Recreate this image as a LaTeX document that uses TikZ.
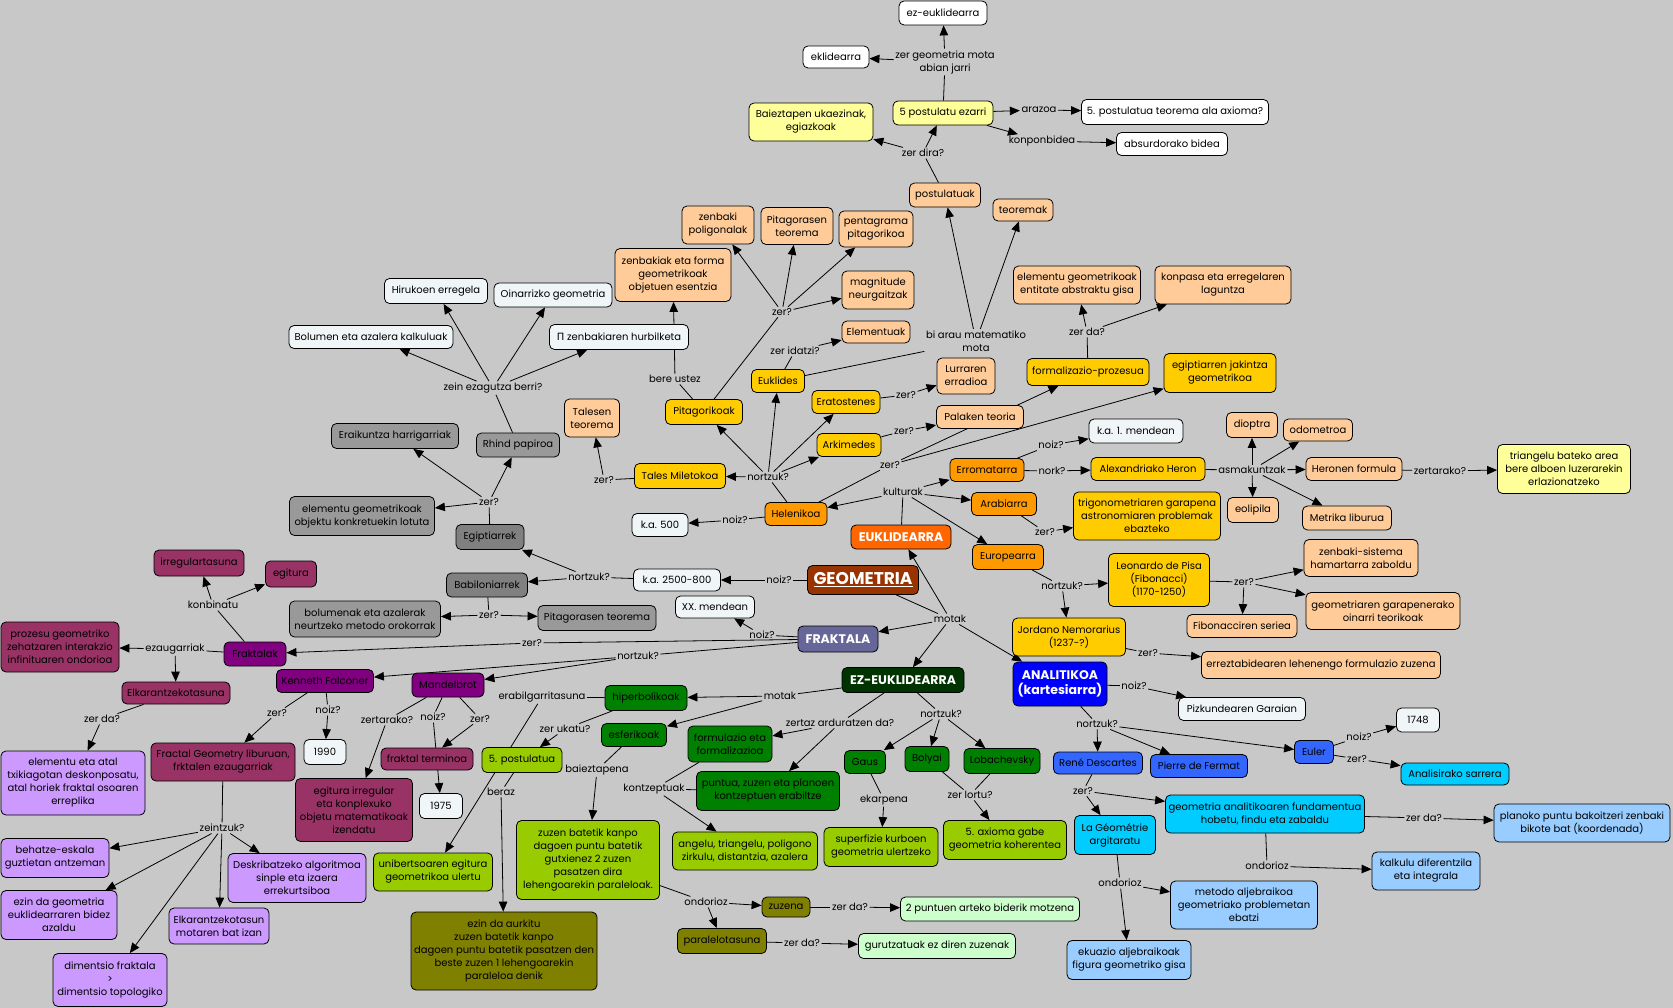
\documentclass[tikz,border=0pt]{standalone}
\usepackage{fontspec}
\setmainfont{Poppins}
\newfontfamily\dejavu{DejaVu Sans}
\usetikzlibrary{arrows.meta}
\pgfdeclarelayer{bg}
\pgfdeclarelayer{edges}
\pgfsetlayers{bg,edges,main}
\definecolor{bgc}{HTML}{C8C8C8}
\definecolor{cwhite}{HTML}{FFFFFF}
\definecolor{clight}{HTML}{F0F6F8}
\definecolor{cpeach}{HTML}{FFCC99}
\definecolor{cgold}{HTML}{FFCC00}
\definecolor{corange}{HTML}{FF9900}
\definecolor{ceukl}{HTML}{FF6600}
\definecolor{cbrown}{HTML}{993300}
\definecolor{cslate}{HTML}{666699}
\definecolor{cpurple}{HTML}{800080}
\definecolor{cmaroon}{HTML}{993366}
\definecolor{clpurple}{HTML}{CC99FF}
\definecolor{cgray}{HTML}{999999}
\definecolor{cdgray}{HTML}{808080}
\definecolor{cdgreen}{HTML}{003300}
\definecolor{cgreen}{HTML}{008000}
\definecolor{cygreen}{HTML}{99CC00}
\definecolor{colive}{HTML}{808000}
\definecolor{cvlgreen}{HTML}{CCFFCC}
\definecolor{cblue}{HTML}{0000FF}
\definecolor{croyal}{HTML}{3366FF}
\definecolor{ccyan}{HTML}{00CCFF}
\definecolor{clblue}{HTML}{99CCFF}
\definecolor{clyellow}{HTML}{FFFF99}
\newcommand\fnt{\fontsize{10}{13}\selectfont}
\newcommand{\bx}[6]{\node[box,#1,minimum width=#4pt,minimum height=#5pt] (#2) at (#3) {#6};}
\newcommand{\lb}[3]{\node[lbl] (#1) at (#2) {#3};}
\tikzset{
 box/.style={draw=black, line width=0.8pt, rounded corners=5pt, align=center, inner sep=1.5pt, font=\fnt},
 lbl/.style={inner sep=1.5pt, align=center, font=\fnt},
 head/.style={font=\bfseries\fontsize{12.5}{14.5}\selectfont, text=white},
 arr/.style={-{Triangle[length=10pt,width=8.5pt]}, line width=0.8pt},
 ln/.style={line width=0.8pt},
}
\begin{document}
\begin{tikzpicture}[x=1pt,y=-1pt]
\begin{pgfonlayer}{bg}
\fill[bgc] (0,0) rectangle (1673,1008);
\end{pgfonlayer}
\useasboundingbox (0,0) rectangle (1673,1008);
% ---------- top
\bx{fill=cwhite}{ezeuk}{943,13}{88}{24}{ez-euklidearra}
\bx{fill=cwhite}{eklid}{836,57}{66}{22}{eklidearra}
\lb{Lzergm}{945,62}{zer geometria mota\\abian jarri}
\bx{fill=clyellow}{post5}{943,113}{100}{24}{5 postulatu ezarri}
\bx{fill=clyellow}{baiez}{811,122}{124}{38}{Baieztapen ukaezinak,\\egiazkoak}
\lb{Larazoa}{1039,110}{arazoa}
\bx{fill=cwhite}{teoax}{1175,112}{187}{25}{5. postulatua teorema ala axioma?}
\lb{Lkonpon}{1042,141}{konponbidea}
\bx{fill=cwhite}{absurd}{1172,144}{111}{23}{absurdorako bidea}
\lb{Lzerdira}{923,153}{zer dira?}
\bx{fill=cpeach}{postul}{945,195}{71}{24}{postulatuak}
\bx{fill=cpeach}{teorem}{1023,210}{60}{22}{teoremak}
\bx{fill=cpeach}{zpolig}{718,225}{72}{38}{zenbaki\\poligonalak}
\bx{fill=cpeach}{pitteo}{797,226}{72}{37}{Pitagorasen\\teorema}
\bx{fill=cpeach}{pentag}{876,229}{74}{36}{pentagrama\\pitagorikoa}
\bx{fill=cpeach}{zenbak}{673,275}{116}{53}{zenbakiak eta forma\\geometrikoak\\objetuen esentzia}
\bx{fill=cpeach}{magnit}{878,290}{72}{38}{magnitude\\neurgaitzak}
\lb{LzerP}{782,312}{zer?}
\bx{fill=cpeach}{elemen}{876,332}{68}{22}{Elementuak}
\lb{Lbiarau}{976,341}{bi arau matematiko\\mota}
\bx{fill=cpeach}{elabs}{1077,285}{127}{38}{elementu geometrikoak\\entitate abstraktu gisa}
\bx{fill=cpeach}{konpas}{1223,285}{136}{38}{konpasa eta erregelaren\\laguntza}
\lb{Lzerda1}{1087,332}{zer da?}
% ---------- left top
\bx{fill=clight}{hiruk}{436,291}{103}{25}{Hirukoen erregela}
\bx{fill=clight}{oinarr}{553,295}{118}{24}{Oinarrizko geometria}
\bx{fill=clight}{bolum}{371,337}{164}{23}{Bolumen eta azalera kalkuluak}
\bx{fill=clight}{pizenb}{619,337}{139}{25}{{\dejavu Π} zenbakiaren hurbilketa}
\lb{Lzein}{493,388}{zein ezagutza berri?}
\lb{Lbere}{675,379}{bere ustez}
\bx{fill=cgold}{pitag}{704,412}{77}{25}{Pitagorikoak}
\bx{fill=cgold}{eukl}{778,381}{53}{23}{Euklides}
\lb{Lzeridatzi}{795,351}{zer idatzi?}
\bx{fill=cpeach}{talest}{592,418}{55}{38}{Talesen\\teorema}
\bx{fill=cgold}{erat}{846,402}{68}{23}{Eratostenes}
\lb{LzerE}{906,395}{zer?}
\bx{fill=cpeach}{lurr}{966,376}{58}{36}{Lurraren\\erradioa}
\bx{fill=cgold}{arkim}{849,445}{64}{23}{Arkimedes}
\lb{LzerA}{904,431}{zer?}
\bx{fill=cpeach}{palak}{980,417}{87}{23}{Palaken teoria}
\bx{fill=cgold}{formp}{1088,372}{122}{27}{formalizazio-prozesua}
\bx{fill=cgold}{egjak}{1220,373}{112}{39}{egiptiarren jakintza\\geometrikoa}
\bx{fill=cgold}{tales}{680,476}{91}{25}{Tales Miletokoa}
\lb{LzerT}{604,480}{zer?}
\lb{LnortH}{768,477}{nortzuk?}
\bx{fill=corange}{helen}{796,514}{62}{23}{Helenikoa}
\bx{fill=clight}{kaV}{660,525}{56}{23}{k.a. 500}
\lb{LnoizH}{735,520}{noiz?}
\lb{LzerH}{890,465}{zer?}
\lb{Lkult}{903,492}{kulturak}
\bx{fill=corange}{errom}{987,470}{74}{23}{Erromatarra}
\lb{LnoizR}{1051,445}{noiz?}
\bx{fill=clight}{kaI}{1136,431}{94}{24}{k.a. 1. mendean}
\lb{Lnork}{1052,471}{nork?}
\bx{fill=cgold}{heron}{1148,469}{114}{23}{Alexandriako Heron}
\bx{fill=corange}{arab}{1004,504}{65}{23}{Arabiarra}
\bx{fill=ceukl,head}{euklA}{901,537}{100}{24}{EUKLIDEARRA}
\lb{LzerAr}{1045,532}{zer?}
\bx{fill=cgold}{trigo}{1147,516}{147}{48}{trigonometriaren garapena\\astronomiaren problemak\\ebazteko}
\bx{fill=corange}{europ}{1008,557}{71}{25}{Europearra}
\bx{fill=cbrown,head,font=\bfseries\fontsize{17}{19}\selectfont}{geom}{863,580}{111}{29}{\underline{GEOMETRIA}}
\lb{LnoizG}{779,580}{noiz?}
\bx{fill=clight}{kaMM}{677,580}{87}{22}{k.a. 2500-800}
\lb{LnortG}{589,577}{nortzuk?}
\bx{fill=clight}{xx}{715,607}{79}{22}{XX. mendean}
\lb{Lmotak}{950,619}{motak}
\bx{fill=cslate,head}{frakt}{838,639}{80}{26}{FRAKTALA}
\lb{LnoizF}{762,635}{noiz?}
\lb{LnortF}{638,656}{nortzuk?}
\bx{fill=cgold}{jord}{1069,637}{113}{38}{Jordano Nemorarius\\(1237-?)}
\lb{LnortE}{1062,586}{nortzuk?}
\bx{fill=cgold}{leon}{1159,580}{101}{53}{Leonardo de Pisa\\(Fibonacci)\\(1170-1250)}
\bx{fill=cpeach}{dioptra}{1252,425}{51}{25}{dioptra}
\bx{fill=cpeach}{odom}{1318,430}{69}{22}{odometroa}
\lb{Lasmak}{1252,470}{asmakuntzak}
\bx{fill=cpeach}{heronf}{1354,469}{96}{23}{Heronen formula}
\lb{Lzertar}{1440,471}{zertarako?}
\bx{fill=clyellow}{triang}{1564,469}{133}{49}{triangelu bateko area\\bere alboen luzerarekin\\erlazionatzeko}
\bx{fill=cpeach}{eolip}{1253,510}{51}{25}{eolipila}
\bx{fill=cpeach}{metrik}{1347,518}{89}{24}{Metrika liburua}
\bx{fill=cpeach}{zsist}{1361,558}{114}{37}{zenbaki-sistema\\hamartarra zaboldu}
\lb{LzerL}{1244,582}{zer?}
\bx{fill=cpeach}{gogar}{1383,611}{154}{37}{geometriaren garapenerako\\oinarri teorikoak}
\bx{fill=cpeach}{fibon}{1242,626}{110}{23}{Fibonacciren seriea}
\lb{LzerJ}{1148,653}{zer?}
\bx{fill=cpeach}{errez}{1321,665}{239}{27}{erreztabidearen lehenengo formulazio zuzena}
% ---------- right bottom
\lb{LnoizAn}{1134,686}{noiz?}
\bx{fill=clight}{pizk}{1242,709}{127}{23}{Pizkundearen Garaian}
\bx{fill=clight}{yMDCCXLVIII}{1418,720}{43}{24}{1748}
\lb{LnoizEu}{1359,737}{noiz?}
\bx{fill=croyal}{euler}{1314,752}{39}{23}{Euler}
\lb{LzerEu}{1357,759}{zer?}
\bx{fill=ccyan}{anali}{1455,774}{108}{22}{Analisirako sarrera}
\bx{fill=croyal}{fermat}{1199,766}{97}{23}{Pierre de Fermat}
\bx{fill=croyal}{desc}{1098,763}{89}{22}{René Descartes}
\bx{fill=cblue,head}{analit}{1060,684}{94}{44}{ANALITIKOA\\(kartesiarra)}
\lb{LnortAn}{1097,724}{nortzuk?}
\lb{LzerD}{1083,791}{zer?}
\bx{fill=ccyan}{lageo}{1115,835}{81}{39}{La Géométrie\\argitaratu}
\bx{fill=ccyan}{gafund}{1265,814}{199}{38}{geometria analitikoaren fundamentua\\hobetu, findu eta zabaldu}
\lb{LzerdaG}{1424,818}{zer da?}
\bx{fill=clblue}{planok}{1582,823}{176}{38}{planoko puntu bakoitzeri zenbaki\\bikote bat (koordenada)}
\lb{LondG}{1267,866}{ondorioz}
\bx{fill=clblue}{kalk}{1426,871}{108}{38}{kalkulu diferentzila\\eta integrala}
\lb{LondL}{1120,883}{ondorioz}
\bx{fill=clblue}{metodo}{1244,905}{147}{48}{metodo aljebraikoa\\geometriako problemetan\\ebatzi}
\bx{fill=clblue}{ekuaz}{1129,960}{124}{39}{ekuazio aljebraikoak\\figura geometriko gisa}
% ---------- middle bottom
\bx{fill=cdgreen,head}{ezeuklA}{903,680}{122}{25}{EZ-EUKLIDEARRA}
\lb{LmotakE}{780,696}{motak}
\bx{fill=cgreen}{hiperb}{646,698}{82}{25}{hiperbolikoak}
\lb{Lerabil}{542,697}{erabilgarritasuna}
\bx{fill=cgreen}{esfer}{634,735}{65}{23}{esferikoak}
\lb{Lzeruk}{565,729}{zer ukatu?}
\lb{Lzertaz}{840,723}{zertaz arduratzen da?}
\bx{fill=cgreen}{formul}{730,744}{84}{36}{formulazio eta\\formalizazioa}
\lb{LnortEz}{941,714}{nortzuk?}
\bx{fill=cgreen}{gaus}{865,762}{41}{23}{Gaus}
\bx{fill=cgreen}{bolyai}{927,759}{44}{25}{Bolyai}
\bx{fill=cgreen}{lobach}{1002,761}{76}{25}{Lobachevsky}
\lb{Lbaiez}{597,770}{baieztapena}
\lb{Lkontz}{654,789}{kontzeptuak}
\bx{fill=cgreen}{puntua}{768,791}{143}{39}{puntua, zuzen eta planoen\\kontzeptuen erabiltze}
\lb{Lekarp}{884,800}{ekarpena}
\lb{Lzerlortu}{970,795}{zer lortu?}
\bx{fill=cygreen}{zuzenb}{588,860}{143}{79}{zuzen batetik kanpo\\dagoen puntu batetik\\gutxienez 2 zuzen\\pasatzen dira\\lehengoarekin paraleloak.}
\bx{fill=cygreen}{angelu}{745,851}{145}{38}{angelu, triangelu, poligono\\zirkulu, distantzia, azalera}
\bx{fill=cygreen}{superf}{881,847}{114}{39}{superfizie kurboen\\geometria ulertzeko}
\bx{fill=cygreen}{axiomaV}{1005,840}{123}{39}{5. axioma gabe\\geometria koherentea}
\lb{LondZ}{706,902}{ondorioz}
\bx{fill=colive}{zuzena}{786,907}{48}{20}{zuzena}
\lb{LzerdaZ}{850,907}{zer da?}
\bx{fill=cvlgreen}{puntuen}{990,909}{179}{24}{2 puntuen arteko biderik motzena}
\bx{fill=colive}{paral}{722,941}{89}{25}{paralelotasuna}
\lb{LzerdaP}{802,943}{zer da?}
\bx{fill=cvlgreen}{gurutz}{937,946}{157}{25}{gurutzatuak ez diren zuzenak}
\bx{fill=colive}{ezinaur}{504,951}{186}{78}{ezin da aurkitu\\zuzen batetik kanpo\\dagoen puntu batetik pasatzen den\\beste zuzen 1 lehengoarekin\\paraleloa denik}
\bx{fill=cygreen}{postVb}{522,760}{80}{25}{5. postulatua}
\lb{Lberaz}{501,792}{beraz}
\bx{fill=cygreen}{unib}{433,872}{119}{38}{unibertsoaren egitura\\geometrikoa ulertu}
% ---------- left bottom
\bx{fill=cpurple}{mandel}{448,685}{72}{24}{Mandelbrot}
\bx{fill=cpurple}{kenn}{325,681}{97}{23}{Kenneth Falconer}
\bx{fill=cpurple}{fraktk}{255,654}{62}{24}{Fraktalak}
\lb{LzerFr}{532,643}{zer?}
\lb{LzertarM}{387,720}{zertarako?}
\lb{LnoizM}{433,717}{noiz?}
\lb{LzerM}{480,719}{zer?}
\bx{fill=cmaroon}{fterm}{427,759}{92}{22}{fraktal terminoa}
\bx{fill=clight}{yMCMLXXV}{441,806}{43}{25}{1975}
\bx{fill=cmaroon}{egirr}{354,810}{117}{63}{egitura irregular\\eta konplexuko\\objetu matematikoak\\izendatu}
\lb{LzerK}{277,713}{zer?}
\lb{LnoizK}{328,710}{noiz?}
\bx{fill=clight}{yMCMXC}{325,752}{42}{25}{1990}
\bx{fill=cmaroon}{fgeom}{223,762}{144}{38}{Fractal Geometry liburuan,\\frktalen ezaugarriak}
\lb{Lzeintz}{222,828}{zeintzuk?}
\bx{fill=cmaroon}{elkar}{176,693}{108}{22}{Elkarantzekotasuna}
\lb{LzerdaE}{102,719}{zer da?}
\bx{fill=clpurple}{elatal}{73,783}{144}{64}{elementu eta atal\\txikiagotan deskonposatu,\\atal horiek fraktal osoaren\\erreplika}
\bx{fill=clpurple}{behatz}{55,858}{108}{39}{behatze-eskala\\guztietan antzeman}
\bx{fill=clpurple}{deskr}{297,878}{138}{49}{Deskribatzeko algoritmoa\\sinple eta izaera\\errekurtsiboa}
\bx{fill=clpurple}{ezingeo}{59,915}{116}{49}{ezin da geometria\\euklidearraren bidez\\azaldu}
\bx{fill=clpurple}{elkmot}{219,926}{100}{36}{Elkarantzekotasun\\motaren bat izan}
\bx{fill=clpurple}{dimen}{110,980}{114}{53}{dimentsio fraktala\\>\\dimentsio topologiko}
\bx{fill=cgray}{eraik}{395,436}{127}{25}{Eraikuntza harrigarriak}
\bx{fill=cgray}{rhind}{518,445}{83}{24}{Rhind papiroa}
\lb{LzerEg}{489,502}{zer?}
\bx{fill=cgray}{elkonk}{362,516}{145}{39}{elementu geometrikoak\\objektu konkretuekin lotuta}
\bx{fill=cdgray}{egipt}{490,537}{68}{25}{Egiptiarrek}
\bx{fill=cdgray}{babil}{487,585}{81}{24}{Babiloniarrek}
\lb{LzerB}{489,615}{zer?}
\bx{fill=cgray}{bolmet}{365,619}{151}{36}{bolumenak eta azalerak\\neurtzeko metodo orokorrak}
\bx{fill=cgray}{pitgray}{597,618}{118}{25}{Pitagorasen teorema}
\bx{fill=cmaroon}{irreg}{199,563}{90}{26}{irregulartasuna}
\bx{fill=cmaroon}{egitura}{291,574}{51}{26}{egitura}
\lb{Lkonb}{213,605}{konbinatu}
\bx{fill=cmaroon}{prozesu}{60,647}{118}{50}{prozesu geometriko\\zehatzaren interakzio\\infinituaren ondorioa}
\lb{Lezaug}{175,649}{ezaugarriak}
% ================= edges
\begin{pgfonlayer}{edges}
\draw[ln] (post5) -- (Lzergm);
\draw[arr] (Lzergm) -- (ezeuk);
\draw[arr] (Lzergm) -- (eklid);
\draw[arr] (post5) -- (Larazoa);
\draw[arr] (Larazoa) -- (teoax);
\draw[arr] (post5) -- (Lkonpon);
\draw[arr] (Lkonpon) -- (absurd);
\draw[ln] (postul) -- (Lzerdira);
\draw[arr] (Lzerdira) -- (post5);
\draw[arr] (Lzerdira) -- (baiez);
\draw[ln] (eukl) -- (Lbiarau);
\draw[arr] (Lbiarau) -- (postul);
\draw[arr] (Lbiarau) -- (teorem);
\draw[ln] (eukl) -- (Lzeridatzi);
\draw[arr] (Lzeridatzi) -- (elemen);
\draw[ln] (pitag) -- (LzerP);
\foreach \t in {zpolig,pitteo,pentag,magnit} \draw[arr] (LzerP) -- (\t);
\draw[ln] (pitag) -- (Lbere);
\draw[arr] (Lbere) -- (zenbak);
\draw[ln] (tales) -- (LzerT);
\draw[arr] (LzerT) -- (talest);
\draw[ln] (helen) -- (LnortH);
\foreach \t in {tales,pitag,eukl,erat,arkim} \draw[arr] (LnortH) -- (\t);
\draw[ln] (erat) -- (LzerE);
\draw[arr] (LzerE) -- (lurr);
\draw[ln] (arkim) -- (LzerA);
\draw[arr] (LzerA) -- (palak);
\draw[ln] (helen) -- (LzerH);
\draw[arr] (LzerH) -- (formp);
\draw[arr] (LzerH) -- (egjak);
\draw[ln] (formp) -- (Lzerda1);
\draw[arr] (Lzerda1) -- (elabs);
\draw[arr] (Lzerda1) -- (konpas);
\draw[ln] (helen) -- (LnoizH);
\draw[arr] (LnoizH) -- (kaV);
\draw[ln] (euklA) -- (Lkult);
\foreach \t in {helen,errom,arab,europ} \draw[arr] (Lkult) -- (\t);
\draw[ln] (errom) -- (LnoizR);
\draw[arr] (LnoizR) -- (kaI);
\draw[ln] (errom) -- (Lnork);
\draw[arr] (Lnork) -- (heron);
\draw[ln] (heron) -- (Lasmak);
\foreach \t in {dioptra,odom,heronf,eolip,metrik} \draw[arr] (Lasmak) -- (\t);
\draw[ln] (heronf) -- (Lzertar);
\draw[arr] (Lzertar) -- (triang);
\draw[ln] (arab) -- (LzerAr);
\draw[arr] (LzerAr) -- (trigo);
\draw[ln] (europ) -- (LnortE);
\draw[arr] (LnortE) -- (leon);
\draw[arr] (LnortE) -- (jord);
\draw[ln] (leon) -- (LzerL);
\foreach \t in {zsist,gogar,fibon} \draw[arr] (LzerL) -- (\t);
\draw[ln] (jord) -- (LzerJ);
\draw[arr] (LzerJ) -- (errez);
\draw[ln] (geom) -- (LnoizG);
\draw[arr] (LnoizG) -- (kaMM);
\draw[ln] (kaMM) -- (LnortG);
\draw[arr] (LnortG) -- (egipt);
\draw[arr] (LnortG) -- (babil);
\draw[ln] (geom) -- (Lmotak);
\foreach \t in {euklA,frakt,ezeuklA,analit} \draw[arr] (Lmotak) -- (\t);
\draw[ln] (egipt) -- (LzerEg);
\foreach \t in {elkonk,eraik,rhind} \draw[arr] (LzerEg) -- (\t);
\draw[ln] (rhind) -- (Lzein);
\foreach \t in {bolum,hiruk,oinarr,pizenb} \draw[arr] (Lzein) -- (\t);
\draw[ln] (babil) -- (LzerB);
\draw[arr] (LzerB) -- (bolmet);
\draw[arr] (LzerB) -- (pitgray);
\draw[ln] (frakt) -- (LnoizF);
\draw[arr] (LnoizF) -- (xx);
\draw[ln] (frakt) -- (LzerFr);
\draw[arr] (LzerFr) -- (fraktk);
\draw[ln] (frakt) -- (LnortF);
\draw[arr] (LnortF) -- (kenn);
\draw[arr] (LnortF) -- (mandel);
\draw[ln] (fraktk) -- (Lkonb);
\draw[arr] (Lkonb) -- (irreg);
\draw[arr] (Lkonb) -- (egitura);
\draw[ln] (fraktk) -- (Lezaug);
\draw[arr] (Lezaug) -- (prozesu);
\draw[arr] (Lezaug) -- (elkar);
\draw[ln] (elkar) -- (LzerdaE);
\draw[arr] (LzerdaE) -- (elatal);
\draw[ln] (kenn) -- (LzerK);
\draw[arr] (LzerK) -- (fgeom);
\draw[ln] (kenn) -- (LnoizK);
\draw[arr] (LnoizK) -- (yMCMXC);
\draw[ln] (fgeom) -- (Lzeintz);
\foreach \t in {behatz,ezingeo,dimen,elkmot,deskr} \draw[arr] (Lzeintz) -- (\t);
\draw[ln] (mandel) -- (LzertarM);
\draw[arr] (LzertarM) -- (egirr);
\draw[ln] (mandel) -- (LnoizM);
\draw[arr] (LnoizM) -- (yMCMLXXV);
\draw[ln] (mandel) -- (LzerM);
\draw[arr] (LzerM) -- (fterm);
\draw[ln] (ezeuklA) -- (LmotakE);
\draw[arr] (LmotakE) -- (hiperb);
\draw[arr] (LmotakE) -- (esfer);
\draw[ln] (hiperb) -- (Lerabil);
\draw[arr] (Lerabil) -- (unib);
\draw[ln] (hiperb) -- (Lzeruk);
\draw[arr] (Lzeruk) -- (postVb);
\draw[ln] (postVb) -- (Lberaz);
\draw[arr] (Lberaz) -- (ezinaur);
\draw[ln] (esfer) -- (Lbaiez);
\draw[arr] (Lbaiez) -- (zuzenb);
\draw[ln] (zuzenb) -- (LondZ);
\draw[arr] (LondZ) -- (zuzena);
\draw[arr] (LondZ) -- (paral);
\draw[ln] (zuzena) -- (LzerdaZ);
\draw[arr] (LzerdaZ) -- (puntuen);
\draw[ln] (paral) -- (LzerdaP);
\draw[arr] (LzerdaP) -- (gurutz);
\draw[ln] (ezeuklA) -- (Lzertaz);
\draw[arr] (Lzertaz) -- (formul);
\draw[arr] (Lzertaz) -- (puntua);
\draw[ln] (formul) -- (Lkontz);
\draw[ln] (Lkontz) -- (puntua);
\draw[arr] (Lkontz) -- (angelu);
\draw[ln] (ezeuklA) -- (LnortEz);
\foreach \t in {gaus,bolyai,lobach} \draw[arr] (LnortEz) -- (\t);
\draw[ln] (gaus) -- (Lekarp);
\draw[arr] (Lekarp) -- (superf);
\draw[ln] (bolyai) -- (Lzerlortu);
\draw[ln] (lobach) -- (Lzerlortu);
\draw[arr] (Lzerlortu) -- (axiomaV);
\draw[ln] (analit) -- (LnoizAn);
\draw[arr] (LnoizAn) -- (pizk);
\draw[ln] (analit) -- (LnortAn);
\foreach \t in {desc,fermat,euler} \draw[arr] (LnortAn) -- (\t);
\draw[ln] (euler) -- (LnoizEu);
\draw[arr] (LnoizEu) -- (yMDCCXLVIII);
\draw[ln] (euler) -- (LzerEu);
\draw[arr] (LzerEu) -- (anali);
\draw[ln] (desc) -- (LzerD);
\draw[arr] (LzerD) -- (lageo);
\draw[arr] (LzerD) -- (gafund);
\draw[ln] (gafund) -- (LzerdaG);
\draw[arr] (LzerdaG) -- (planok);
\draw[ln] (gafund) -- (LondG);
\draw[arr] (LondG) -- (kalk);
\draw[ln] (lageo) -- (LondL);
\draw[arr] (LondL) -- (metodo);
\draw[arr] (LondL) -- (ekuaz);
\end{pgfonlayer}
\end{tikzpicture}
\end{document}
